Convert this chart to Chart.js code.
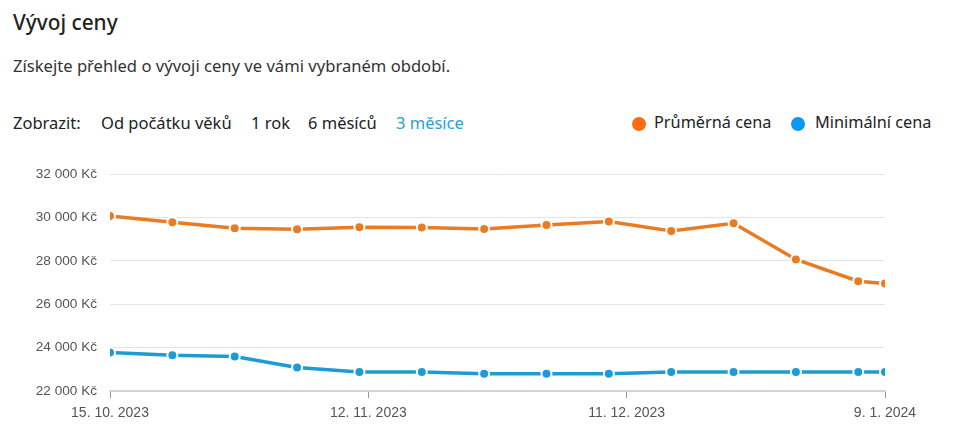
<!DOCTYPE html>
<html>
<head>
<meta charset="utf-8">
<script src="https://cdn.jsdelivr.net/npm/chart.js@4"></script>
<style>
body{margin:0;background:#fff;font-family:"Noto Sans",sans-serif;color:#222;}
#wrap{position:relative;width:955px;height:446px;overflow:hidden;}
h2{position:absolute;left:13px;top:8px;margin:0;font-size:20.8px;font-weight:500;}
.sub{position:absolute;left:13px;top:54px;font-size:16.6px;color:#333;}
.row{position:absolute;top:111px;font-size:16.5px;color:#222;white-space:nowrap;}
.row span{position:absolute;top:0;}
.leg{position:absolute;top:111px;font-size:16.3px;color:#222;white-space:nowrap;}
.dot{position:absolute;top:5.5px;width:14px;height:14px;border-radius:50%;}
#c{position:absolute;left:0;top:150px;}
</style>
</head>
<body>
<div id="wrap">
<h2>Vývoj ceny</h2>
<div class="sub">Získejte přehled o vývoji ceny ve vámi vybraném období.</div>
<div class="row" style="left:0">
<span style="left:13px">Zobrazit:</span>
<span style="left:101px">Od počátku věků</span>
<span style="left:251px">1 rok</span>
<span style="left:308px">6 měsíců</span>
<span style="left:396px;color:#2a9fd6">3 měsíce</span>
</div>
<div class="leg" style="left:0">
<div class="dot" style="left:632px;background:#ff6b10"></div>
<span style="position:absolute;left:654px">Průměrná cena</span>
<div class="dot" style="left:791px;background:#0b98f0"></div>
<span style="position:absolute;left:815px">Minimální cena</span>
</div>
<canvas id="c" width="955" height="296"></canvas>
</div>
<script>
// days since 15. 10. 2023
const days = [0, 7, 14, 21, 28, 35, 42, 49, 56, 63, 70, 77, 84, 87];
const avgPrice = [30070, 29780, 29500, 29450, 29550, 29530, 29470, 29650, 29810, 29375, 29730, 28065, 27060, 26950];
const minPrice = [23775, 23650, 23590, 23080, 22880, 22880, 22790, 22790, 22790, 22880, 22880, 22880, 22880, 22880];
const tickLabels = ["15. 10. 2023", "12. 11. 2023", "11. 12. 2023", "9. 1. 2024"];

const orange = "#e97c22";
const blue = "#1c9bd5";

function series(vals, color){
  return {
    data: vals.map((v, i) => ({x: days[i], y: v})),
    borderColor: color,
    backgroundColor: color,
    borderWidth: 3.5,
    pointRadius: 5,
    pointBorderWidth: 2,
    pointBorderColor: "#fff",
    pointBackgroundColor: color,
    tension: 0
  };
}

new Chart(document.getElementById("c"), {
  type: "line",
  data: {
    datasets: [series(avgPrice, orange), series(minPrice, blue)]
  },
  options: {
    responsive: false,
    animation: false,
    layout: {padding: {top: 24, right: 70, left: 0, bottom: 0}},
    plugins: {legend: {display: false}, tooltip: {enabled: false}},
    scales: {
      x: {
        type: "linear",
        min: days[0],
        max: days[days.length - 1],
        afterBuildTicks: s => {
          const n = tickLabels.length - 1;
          s.ticks = tickLabels.map((t, i) => ({value: s.min + (s.max - s.min) * i / n}));
        },
        afterFit: s => { s.height = 55; },
        grid: {drawOnChartArea: false, drawTicks: true, tickLength: 7, color: "#999", lineWidth: 1},
        border: {display: true, color: "#d4d4d4", width: 2},
        ticks: {
          callback: (v, i) => tickLabels[i],
          color: "#555",
          padding: 7,
          maxRotation: 0,
          font: {family: "Liberation Sans, Arial", size: 14}
        }
      },
      y: {
        min: 22000,
        max: 32000,
        afterFit: s => { s.width = 110; },
        border: {display: false},
        grid: {color: "#e4e4e4", drawTicks: false},
        ticks: {
          stepSize: 2000,
          padding: 13,
          color: "#555",
          font: {family: "Liberation Sans, Arial", size: 13.6},
          callback: v => Math.round(v / 1000) + " 000 Kč"
        }
      }
    }
  }
});
</script>
</body>
</html>
